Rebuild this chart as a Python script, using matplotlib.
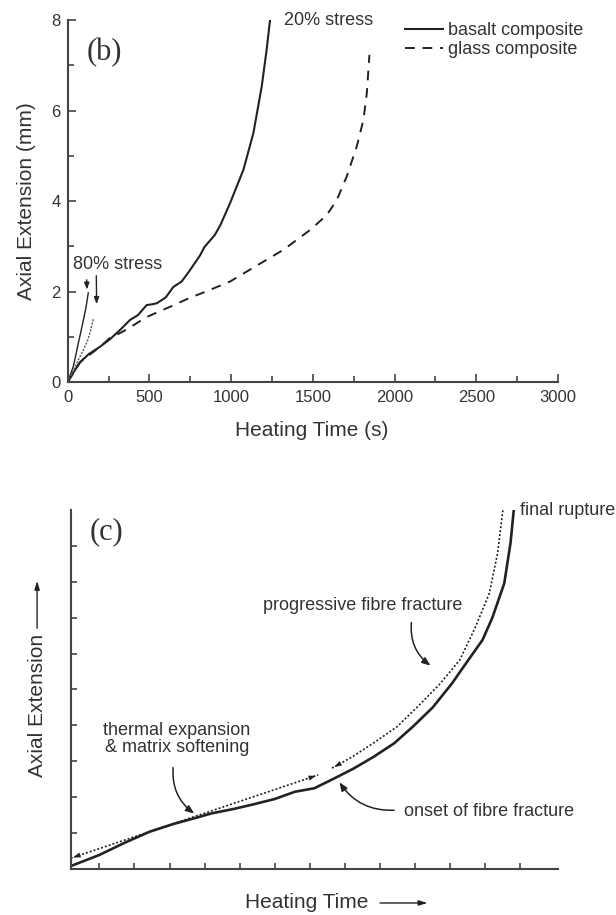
import numpy as np
import matplotlib
matplotlib.use("Agg")
import matplotlib.pyplot as plt

plt.rcParams['font.family'] = ['Liberation Sans', 'DejaVu Sans']

# ---- panel (b): 20% stress tests ----
basalt_t = [0, 30, 76, 130, 198, 260, 320, 381, 430, 483, 520, 545, 600, 646, 697, 740,
            810, 836, 900, 933, 993, 1075, 1136, 1187, 1217, 1238]
basalt_e = [0, 0.18, 0.44, 0.62, 0.78, 0.95, 1.15, 1.37, 1.48, 1.70, 1.72, 1.74, 1.87, 2.10,
            2.22, 2.43, 2.80, 2.98, 3.25, 3.46, 3.95, 4.69, 5.5, 6.53, 7.34, 8.0]
glass_t = [0, 76, 198, 260, 330, 400, 480, 560, 644, 740, 811, 900, 993, 1146, 1319, 1483,
           1585, 1646, 1707, 1768, 1809, 1830, 1846]
glass_e = [0, 0.44, 0.78, 0.98, 1.10, 1.25, 1.43, 1.56, 1.69, 1.85, 1.95, 2.08, 2.22, 2.55,
           2.92, 3.36, 3.69, 4.02, 4.54, 5.2, 5.79, 6.38, 7.23]

# 80% stress tests
basalt80_t = [0, 20, 34, 50, 65, 80, 96, 112, 126]
basalt80_e = [0, 0.2, 0.34, 0.6, 0.86, 1.1, 1.37, 1.65, 1.97]
glass80_t = [0, 30, 60, 96, 120, 136, 148, 157]
glass80_e = [0, 0.22, 0.45, 0.71, 0.9, 1.08, 1.25, 1.41]

# ---- panel (c): schematic ----
solid_u = [-0.815, 0.0, 0.7, 1.44, 2.1, 2.77, 3.2, 3.82, 4.39, 5.0, 5.57, 6.13, 6.69, 7.25,
           7.81, 8.4, 8.93, 9.5, 10.05, 10.5, 10.92, 11.2, 11.54, 11.72, 11.81]
solid_v = [0.08, 0.39, 0.72, 1.04, 1.25, 1.43, 1.55, 1.67, 1.8, 1.95, 2.15, 2.25, 2.52, 2.8,
           3.12, 3.5, 3.96, 4.5, 5.17, 5.8, 6.38, 7.0, 7.96, 9.1, 10.0]
linear_u = [-0.815, 6.24]
linear_v = [0.30, 2.62]
dotted_u = [6.63, 7.2, 7.8, 8.48, 9.1, 9.7, 10.27, 10.7, 11.11, 11.35, 11.5]
dotted_v = [2.81, 3.12, 3.5, 3.96, 4.55, 5.15, 5.82, 6.7, 7.67, 8.8, 10.0]

ink = '#222222'
txt = '#333333'
axc = '#444444'

fig = plt.figure(figsize=(6.16, 9.15), dpi=100)
ax1 = fig.add_axes([0.1099, 0.5825, 0.796, 0.3956])
ax2 = fig.add_axes([0.1148, 0.0503, 0.791, 0.3923])

for ax in (ax1, ax2):
    for s in ('top', 'right'):
        ax.spines[s].set_visible(False)
    for s in ('left', 'bottom'):
        ax.spines[s].set_linewidth(1.5)
        ax.spines[s].set_color(axc)

# panel (b)
ax1.plot(basalt_t, basalt_e, color=ink, lw=1.5, label='basalt composite')
ax1.plot(glass_t, glass_e, color=ink, lw=1.4, ls=(0, (5, 4)), label='glass composite')
ax1.plot(basalt80_t, basalt80_e, color=ink, lw=1.0)
ax1.plot(glass80_t, glass80_e, color='#555555', lw=1.0, ls=(0, (1.5, 1)))
ax1.set_xlim(0, 3000)
ax1.set_ylim(0, 8)
ax1.set_xticks(np.arange(0, 3001, 500))
ax1.set_xticks(np.arange(0, 3001, 250), minor=True)
ax1.set_yticks(np.arange(0, 9, 2))
ax1.set_yticks(np.arange(0, 9, 1), minor=True)
ax1.tick_params(which='major', direction='in', length=6, width=1.2, color=axc,
                labelsize=12, labelcolor=txt)
ax1.tick_params(which='minor', direction='in', length=4, width=1.2, color=axc)
ax1.tick_params(axis='x', pad=6)
ax1.tick_params(axis='y', pad=5)
ax1.set_xlabel('Heating Time (s)', fontsize=15, color=txt, va='center')
ax1.xaxis.set_label_coords(0.497, -0.135)
ax1.set_ylabel('Axial Extension (mm)', fontsize=15, color=txt, va='center')
ax1.yaxis.set_label_coords(-0.085, 0.5)

ax1.text(222, 7.29, '(b)', family='Liberation Serif', fontsize=22, color=txt,
         ha='center', va='center')
ax1.text(1322, 8.0, '20% stress', fontsize=13, color=txt, ha='left', va='center')
ax1.text(32, 2.6, '80% stress', fontsize=13, color=txt, ha='left', va='center')
ax1.annotate('', xy=(118, 1.98), xytext=(116, 2.32),
             arrowprops=dict(arrowstyle='-|>,head_length=0.4,head_width=0.15', color=ink, lw=1))
ax1.annotate('', xy=(177, 1.66), xytext=(175, 2.41),
             arrowprops=dict(arrowstyle='-|>,head_length=0.4,head_width=0.15', color=ink, lw=1))

leg = ax1.legend(loc='upper left', bbox_to_anchor=(405 / 616, 1 - 22 / 915),
                 bbox_transform=fig.transFigure, frameon=False, fontsize=13,
                 handlelength=2.1, handletextpad=0.28, labelspacing=0.12,
                 borderpad=0, borderaxespad=0)
for t in leg.get_texts():
    t.set_color(txt)

# panel (c)
ax2.plot(solid_u, solid_v, color=ink, lw=1.9)
ax2.plot(linear_u, linear_v, color=ink, lw=1.2, ls=(0, (1.2, 1.2)))
ax2.plot(dotted_u, dotted_v, color=ink, lw=1.2, ls=(0, (1.2, 1.2)))
head = dict(arrowstyle='-|>,head_length=0.5,head_width=0.18', color=ink, lw=0.1)
ax2.annotate('', xy=(linear_u[0], linear_v[0]), xytext=(linear_u[0] + 0.3, linear_v[0] + 0.1),
             arrowprops=head)
ax2.annotate('', xy=(linear_u[1], linear_v[1]), xytext=(linear_u[1] - 0.3, linear_v[1] - 0.1),
             arrowprops=head)
ax2.annotate('', xy=(dotted_u[0], dotted_v[0]), xytext=(dotted_u[0] + 0.3, dotted_v[0] + 0.16),
             arrowprops=head)

ax2.set_xlim(-0.815, 13.07)
ax2.set_ylim(0, 10)
ax2.set_xticks(np.arange(0, 13))
ax2.set_yticks(np.arange(1, 10))
ax2.tick_params(direction='in', length=4, width=1.2, color=axc,
                labelbottom=False, labelleft=False)

curved = dict(arrowstyle='-|>,head_length=0.5,head_width=0.2', color=ink, lw=1.1)
ax2.text(7.51, 7.33, 'progressive fibre fracture', fontsize=13, color=txt,
         ha='center', va='center')
ax2.annotate('', xy=(9.5, 5.62), xytext=(8.9, 6.94),
             arrowprops=dict(curved, connectionstyle='arc3,rad=0.3'))
ax2.text(2.21, 3.62, 'thermal expansion\n& matrix softening', fontsize=13, color=txt,
         ha='center', va='center', linespacing=1.05)
ax2.annotate('', xy=(2.77, 1.5), xytext=(2.11, 2.9),
             arrowprops=dict(curved, connectionstyle='arc3,rad=0.3'))
ax2.text(8.68, 1.6, 'onset of fibre fracture', fontsize=13, color=txt,
         ha='left', va='center')
ax2.annotate('', xy=(6.8, 2.48), xytext=(8.48, 1.64),
             arrowprops=dict(curved, connectionstyle='arc3,rad=-0.3'))
ax2.text(11.98, 10.0, 'final rupture', fontsize=13, color=txt, ha='left', va='center',
         clip_on=False)
ax2.text(0.21, 9.4, '(c)', family='Liberation Serif', fontsize=22, color=txt,
         ha='center', va='center')

ax2.text(0.484, -0.0947, 'Heating Time', transform=ax2.transAxes, fontsize=15, color=txt,
         ha='center', va='center')
ax2.annotate('', xy=(0.738, -0.0947), xytext=(0.629, -0.0947), xycoords='axes fraction',
             textcoords='axes fraction',
             arrowprops=dict(arrowstyle='-|>,head_length=0.5,head_width=0.15', color=ink, lw=1))
ax2.text(-0.069, 0.455, 'Axial Extension', transform=ax2.transAxes, fontsize=15, color=txt,
         ha='center', va='center', rotation=90)
ax2.annotate('', xy=(-0.069, 0.8106), xytext=(-0.069, 0.663), xycoords='axes fraction',
             textcoords='axes fraction',
             arrowprops=dict(arrowstyle='-|>,head_length=0.5,head_width=0.15', color=ink, lw=1))

fig.savefig('out.png', dpi=100)
